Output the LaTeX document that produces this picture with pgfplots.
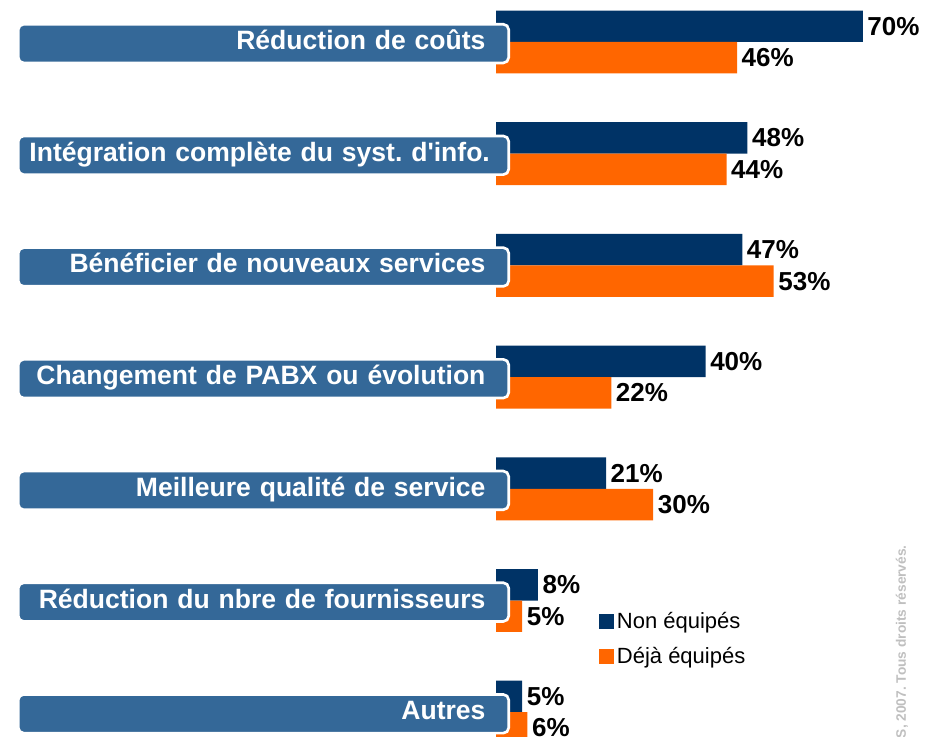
\documentclass[border=0pt]{standalone}
\usepackage{pgfplots}
\pgfplotsset{compat=1.18}
\usepackage{fontspec}
\setmainfont{Liberation Sans}
\definecolor{navy}{HTML}{003366}
\definecolor{orng}{HTML}{FF6600}
\definecolor{boxblue}{HTML}{346898}
\newcommand\lab[1]{\mbox{#1}\hspace*{9pt}}
\begin{document}
\frenchspacing
\begin{tikzpicture}
\useasboundingbox (0,0) rectangle (700.5pt,552.75pt);
\begin{axis}[
  at={(372pt,0pt)}, anchor=south west,
  scale only axis, width=328.5pt, height=552.75pt,
  xmin=0, xmax=83.6, ymin=-0.376, ymax=6.222, y dir=reverse,
  xbar, bar width=23.6pt,
  axis line style={draw=none}, xtick=\empty,
  ytick={0,...,6},
  yticklabels={\lab{Réduction de coûts}, \lab{Intégration complète du syst. d\textquotesingle info.}, \lab{Bénéficier de nouveaux services}, \lab{Changement de PABX ou évolution}, \lab{Meilleure qualité de service}, \lab{Réduction du nbre de fournisseurs}, \lab{Autres}},
  major tick length=0pt,
  yticklabel style={fill=boxblue, draw=white, line width=2pt, rounded corners=4pt, text=white,
    font=\bfseries\fontsize{19.9}{22}\selectfont, text width=351pt, align=right,
    inner xsep=8.4pt, inner ysep=5pt, text height=14pt, text depth=5pt, anchor=east, xshift=10.5pt, yshift=-1.2pt},
  axis on top, clip=false,
  point meta=x,
  /pgf/number format/assume math mode=true,
  nodes near coords={\pgfmathprintnumber{\pgfplotspointmeta}\%},
  nodes near coords style={font=\bfseries\fontsize{19.5}{22}\selectfont, text=black, anchor=west},
  legend style={at={(0.226,0.177)}, anchor=north west, draw=none, fill=none,
    font=\fontsize{16.5}{19}\selectfont, row sep=9pt},
  legend cell align=left,
]
\addplot[fill=navy, draw=none, bar shift=11.8pt,
  legend image code/.code={\fill[navy] (-1.5pt,-5.6pt) rectangle (9.75pt,5.6pt);}]
  coordinates {(70,0) (48,1) (47,2) (40,3) (21,4) (8,5) (5,6)};
\addplot[fill=orng, draw=none, bar shift=-11.8pt,
  legend image code/.code={\fill[orng] (-1.5pt,-5.6pt) rectangle (9.75pt,5.6pt);}]
  coordinates {(46,0) (44,1) (53,2) (22,3) (30,4) (5,5) (6,6)};
\legend{Non équipés, Déjà équipés}
\end{axis}
\node[rotate=90, anchor=east, inner sep=0pt, text=black!25, font=\bfseries\fontsize{10.3}{12}\selectfont] at (676.5pt,144pt) {AS, 2007. Tous droits réservés.};
\end{tikzpicture}
\end{document}
